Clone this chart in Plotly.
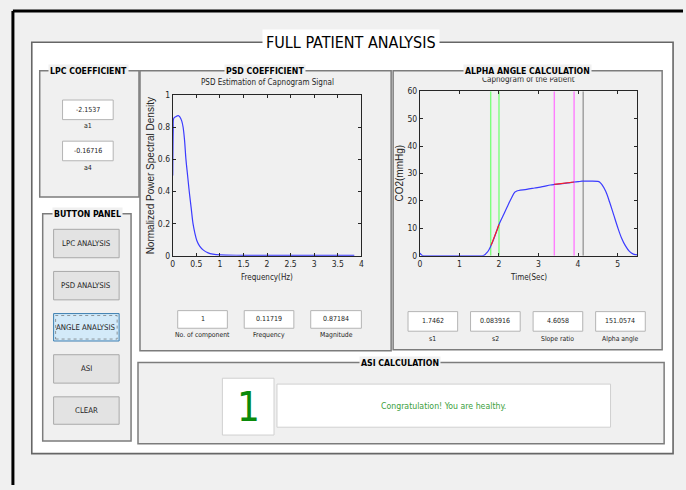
import plotly.graph_objects as go

# ---------------- data ----------------
psd_freq = [0.0, 0.01, 0.02, 0.06, 0.117, 0.15, 0.19, 0.22, 0.25, 0.28, 0.315, 0.35, 0.39, 0.43,
            0.47, 0.51, 0.57, 0.65, 0.75, 0.85, 1.0, 1.5, 2.0, 2.5, 3.0, 3.5, 3.85]
psd_power = [0.50, 0.78, 0.855, 0.865, 0.872, 0.865, 0.84, 0.80, 0.72, 0.60, 0.50, 0.40, 0.30, 0.20,
             0.14, 0.095, 0.06, 0.035, 0.018, 0.010, 0.005, 0.003, 0.002, 0.002, 0.002, 0.002, 0.002]

cap_time = [0.0, 0.05, 0.1, 0.5, 1.0, 1.5, 1.6, 1.65, 1.7, 1.75, 1.8, 1.85, 1.9, 1.95, 2.0, 2.1, 2.2,
            2.3, 2.4, 2.45, 2.5, 2.7, 2.9, 3.1, 3.3, 3.4, 3.6, 3.8, 3.9, 4.0, 4.1, 4.3, 4.5, 4.55,
            4.6, 4.7, 4.8, 4.9, 5.0, 5.1, 5.2, 5.3, 5.4, 5.5]
cap_co2 = [1.0, 0.2, 0.0, 0.0, 0.0, 0.0, 0.1, 0.5, 1.2, 2.3, 3.8, 5.5, 7.4, 9.4, 11.4, 14.5, 17.6,
           20.6, 23.2, 23.6, 23.8, 24.2, 24.7, 25.2, 25.8, 26.0, 26.3, 26.7, 26.9, 27.0, 27.2, 27.2,
           27.1, 26.8, 26.0, 23.5, 19.5, 15.0, 10.5, 6.5, 3.6, 1.6, 0.6, 0.3]

fit1_time = [1.8, 1.85, 1.9, 1.95, 2.0]
fit1_co2 = [3.8, 5.5, 7.4, 9.4, 11.4]
fit2_time = [3.4, 3.6, 3.8, 3.9]
fit2_co2 = [26.0, 26.3, 26.7, 26.9]

green_lines = [1.79, 2.0]
magenta_lines = [3.4, 3.9]
gray_lines = [4.13]

psd_xticks = [0, 0.5, 1, 1.5, 2, 2.5, 3, 3.5, 4]
psd_xticklabels = ["0", "0.5", "1", "1.5", "2", "2.5", "3", "3.5", "4"]
psd_yticks = [0, 0.2, 0.4, 0.6, 0.8, 1]
psd_yticklabels = ["0", "0.2", "0.4", "0.6", "0.8", "1"]
cap_xticks = [0, 1, 2, 3, 4, 5]
cap_yticks = [0, 10, 20, 30, 40, 50, 60]

lpc_labels = ["a1", "a4"]
lpc_values = ["-2.1537", "-0.16716"]
psd_labels = ["No. of component", "Frequency", "Magnitude"]
psd_values = ["1", "0.11719", "0.87184"]
alpha_labels = ["s1", "s2", "Slope ratio", "Alpha angle"]
alpha_values = ["1.7462", "0.083916", "4.6058", "151.0574"]
buttons = ["LPC ANALYSIS", "PSD ANALYSIS", "ANGLE ANALYSIS", "ASI", "CLEAR"]
asi_value = "1"
asi_message = "Congratulation! You are healthy."

# ---------------- layout helpers ----------------
W, H = 686, 490
NARROW = "DejaVu Sans Condensed, Liberation Sans Narrow, Arial Narrow, sans-serif"
HELV = "Liberation Sans, Arial, sans-serif"


def X(p):
    return p / W


def Y(p):
    return 1 - p / H


shapes = []
annots = []


def rect(x0, y0, x1, y1, fill=None, line="#7c7c7c", lw=1.5, layer="above", dash=None):
    d = dict(type="rect", xref="paper", yref="paper", x0=X(x0), x1=X(x1), y0=Y(y1), y1=Y(y0),
             line=dict(color=line, width=lw), layer=layer)
    if dash:
        d["line"]["dash"] = dash
    if fill:
        d["fillcolor"] = fill
    shapes.append(d)


def text(x, y, s, size=9, color="#222222", family=NARROW, bg=None, angle=0, pad=0):
    a = dict(x=X(x), y=Y(y), xref="paper", yref="paper", text=s, showarrow=False,
             font=dict(size=size, color=color, family=family), xanchor="center", yanchor="middle",
             textangle=angle, borderpad=pad)
    if bg:
        a["bgcolor"] = bg
    annots.append(a)


# outer black frame
shapes.append(dict(type="line", xref="paper", yref="paper", x0=X(11), x1=X(11), y0=0, y1=Y(6),
                   line=dict(color="black", width=3)))
shapes.append(dict(type="line", xref="paper", yref="paper", x0=X(11), x1=1, y0=Y(6), y1=Y(6),
                   line=dict(color="black", width=3)))

# panels (below plot area)
rect(30, 38, 676, 458, fill="white", line="#666666", lw=1.6, layer="below")
rect(38, 67, 138, 196, fill="#f0f0f0", layer="below")
rect(41, 213, 130, 445, fill="#f0f0f0", layer="below")
rect(139, 67, 392, 353, fill="#f0f0f0", layer="below")
rect(394, 67, 665, 352, fill="#f0f0f0", layer="below")
rect(137, 365, 667, 448, fill="#f0f0f0", layer="below")

# LPC boxes
lpc_y = [107, 149]
for yy, lab, val in zip(lpc_y, lpc_labels, lpc_values):
    rect(61, yy - 10, 112, yy + 10, fill="white", line="#b4b4b4", lw=1)
    text(86.5, yy, val, size=7)
    text(86.5, yy + 17, lab, size=7)

# buttons
btn_y = [(229, 258), (272, 301), (315, 343), (357, 386), (400, 428)]
for (y0, y1), lab in zip(btn_y, buttons):
    if lab == "ANGLE ANALYSIS":
        rect(52, y0, 118, y1, fill="#d3eaf9", line="#3c7fb1", lw=1)
        rect(54, y0 + 2, 116, y1 - 2, line="#5a5a5a", lw=0.6, dash="dot")
    else:
        rect(52, y0, 118, y1, fill="#e3e3e3", line="#a9a9a9", lw=1)
    text(85, (y0 + y1) / 2, lab, size=7.8)

# PSD boxes
psd_bx = [(177, 227), (244, 294), (311, 362)]
for (x0, x1), lab, val in zip(psd_bx, psd_labels, psd_values):
    rect(x0, 312, x1, 330, fill="white", line="#b4b4b4", lw=1)
    text((x0 + x1) / 2, 321, val, size=7)
    text((x0 + x1) / 2, 337, lab, size=6.8)

# Alpha boxes
alpha_bx = [(409, 459), (472, 522), (535, 585), (598, 648)]
for (x0, x1), lab, val in zip(alpha_bx, alpha_labels, alpha_values):
    rect(x0, 313, x1, 333, fill="white", line="#b4b4b4", lw=1)
    text((x0 + x1) / 2, 323, val, size=7)
    text((x0 + x1) / 2, 341, lab, size=6.8)

# ASI
rect(222, 381, 274, 439, fill="white", line="#d0d0d0", lw=1)
text(248, 410, asi_value, size=40, color="#0a8a0a", family=NARROW)
rect(277, 387, 613, 431, fill="white", line="#d0d0d0", lw=1)
text(445, 409, asi_message, size=8.7, color="#3ca03c", family=NARROW)

# axis titles
text(267, 79, "PSD Estimation of Capnogram Signal", size=8, color="#262626")
text(150, 174, "Normalized Power Spectral Density", size=10, color="#262626", angle=-90, family=HELV)
text(267, 278, "Frequency(Hz)", size=8, color="#262626")
text(530, 76, "Capnogram of the Patient", size=8, color="#262626")
text(400, 172, "CO2(mmHg)", size=10, color="#262626", angle=-90, family=HELV)
text(530, 278, "Time(Sec)", size=8, color="#262626")

# panel titles
text(352, 38, "FULL PATIENT ANALYSIS", size=16, color="black", family=NARROW, bg="white", pad=3)
text(87, 67, "<b>LPC COEFFICIENT</b>", size=8.7, color="black", family=NARROW, bg="#f0f0f0", pad=1)
text(265, 67, "<b>PSD COEFFICIENT</b>", size=8.7, color="black", family=NARROW, bg="#f0f0f0", pad=1)
text(529, 67, "<b>ALPHA ANGLE CALCULATION</b>", size=8.7, color="black", family=NARROW, bg="#f0f0f0", pad=1)
text(86, 213, "<b>BUTTON PANEL</b>", size=8.7, color="black", family=NARROW, bg="#f0f0f0", pad=1)
text(401, 365, "<b>ASI CALCULATION</b>", size=8.7, color="black", family=NARROW, bg="#f0f0f0", pad=1)

# ---------------- figure ----------------
fig = go.Figure()
BLUE = "#3b3bff"
fig.add_trace(go.Scatter(x=psd_freq, y=psd_power, mode="lines", line=dict(color=BLUE, width=1.2),
                         line_shape="spline", xaxis="x", yaxis="y", showlegend=False))

for xv in green_lines:
    fig.add_trace(go.Scatter(x=[xv, xv], y=[0, 60], mode="lines", line=dict(color="#7dff7d", width=1.4),
                             xaxis="x2", yaxis="y2", showlegend=False))
for xv in magenta_lines:
    fig.add_trace(go.Scatter(x=[xv, xv], y=[0, 60], mode="lines", line=dict(color="#ff7dff", width=1.4),
                             xaxis="x2", yaxis="y2", showlegend=False))
for xv in gray_lines:
    fig.add_trace(go.Scatter(x=[xv, xv], y=[0, 60], mode="lines", line=dict(color="#9a9a9a", width=1.4),
                             xaxis="x2", yaxis="y2", showlegend=False))
fig.add_trace(go.Scatter(x=cap_time, y=cap_co2, mode="lines", line=dict(color=BLUE, width=1.2),
                         line_shape="spline", xaxis="x2", yaxis="y2", showlegend=False))
fig.add_trace(go.Scatter(x=fit1_time, y=fit1_co2, mode="lines", line=dict(color="#ff2020", width=1.2),
                         xaxis="x2", yaxis="y2", showlegend=False))
fig.add_trace(go.Scatter(x=fit2_time, y=fit2_co2, mode="lines", line=dict(color="#ff2020", width=1.2),
                         xaxis="x2", yaxis="y2", showlegend=False))

axcommon = dict(showgrid=False, zeroline=False, showline=True, linecolor="#262626", linewidth=1,
                mirror="ticks", ticks="inside", ticklen=3, tickcolor="#262626",
                tickfont=dict(size=8.5, color="#262626", family=NARROW), fixedrange=True)

fig.update_layout(
    width=W, height=H, margin=dict(l=0, r=0, t=0, b=0), autosize=False,
    paper_bgcolor="#f0f0f0", plot_bgcolor="white", showlegend=False,
    xaxis=dict(domain=[X(172), X(362)], range=[0, 4], tickvals=psd_xticks, ticktext=psd_xticklabels,
               anchor="y", **axcommon),
    yaxis=dict(domain=[Y(256), Y(92)], range=[0, 1], tickvals=psd_yticks, ticktext=psd_yticklabels,
               anchor="x", **axcommon),
    xaxis2=dict(domain=[X(421), X(640)], range=[0, 5.5], tickvals=cap_xticks, anchor="y2", **axcommon),
    yaxis2=dict(domain=[Y(256), Y(88)], range=[0, 60], tickvals=cap_yticks, anchor="x2", **axcommon),
    shapes=shapes, annotations=annots,
)

fig.write_html("out.html", config={"displayModeBar": False, "staticPlot": True},
               post_script="document.body.style.margin='0';")
